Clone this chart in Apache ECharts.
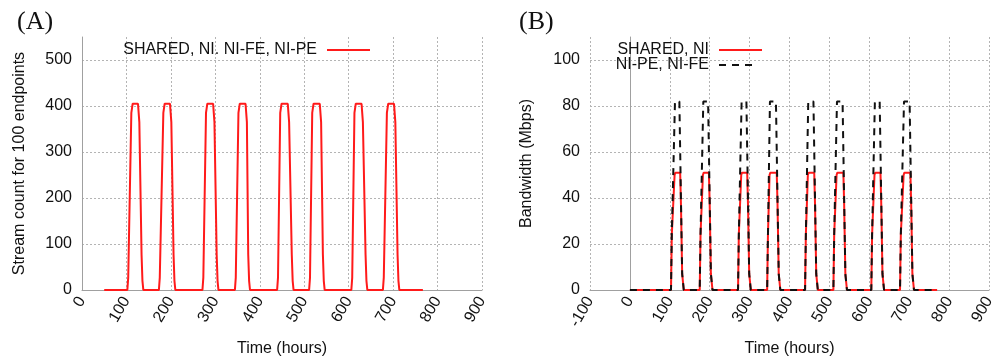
<!DOCTYPE html>
<html>
<head>
<meta charset="utf-8">
<script src="https://cdn.jsdelivr.net/npm/echarts@6/dist/echarts.min.js"></script>
<style>
html,body{margin:0;padding:0;background:#fff}
#main{width:1001px;height:362px}
</style>
</head>
<body>
<div id="main"></div>
<script>
// (A) stream count, one series
var hoursA = [50,
    102,104,111,114,126,129,134,136,138,
    173,175,183,186,198,201,206,208,210,
    271,273,279,282,295,298,303,305,307,
    344,346,352,355,368,371,374,376,378,
    439,441,446,449,463,466,472,474,476,
    511,513,518,521,535,538,542,544,546,
    606,608,613,616,629,632,638,640,642,
    677,679,686,689,702,705,710,712,714,
    767];
var streamsA = [0,
    0,27,385,405,405,365,77,20,0,
    0,27,385,405,405,365,77,20,0,
    0,27,385,405,405,365,77,20,0,
    0,27,385,405,405,365,77,20,0,
    0,27,385,405,405,365,77,20,0,
    0,27,385,405,405,365,77,20,0,
    0,27,385,405,405,365,77,20,0,
    0,27,385,405,405,365,77,20,0,
    0];

// (B) bandwidth
var hoursShared = [0,
    103,105,112,114,126,128,131,135,
    175,177,183,185,198,200,203,207,
    271,273,279,281,294,296,299,303,
    344,346,350,352,368,370,373,377,
    439,441,446,448,462,464,467,471,
    510,512,518,520,535,537,540,544,
    605,607,613,615,628,630,633,637,
    677,679,686,688,703,705,708,712,
    770];
var bwShared = [0,
    0,24,50,51,51,37,7,0,
    0,24,50,51,51,37,7,0,
    0,24,50,51,51,37,7,0,
    0,24,50,51,51,37,7,0,
    0,24,50,51,51,37,7,0,
    0,24,50,51,51,37,7,0,
    0,24,50,51,51,37,7,0,
    0,24,50,51,51,37,7,0,
    0];
var hoursPe = [0,
    103,105,113,124,131,135,
    175,177,184,196,203,207,
    271,273,280,292,299,303,
    344,346,351,366,373,377,
    439,441,447,460,467,471,
    510,512,519,533,540,544,
    605,607,614,626,633,637,
    677,679,687,701,708,712,
    770];
var bwPe = [0,
    0,24,82,82,7,0,
    0,24,82,82,7,0,
    0,24,82,82,7,0,
    0,24,82,82,7,0,
    0,24,82,82,7,0,
    0,24,82,82,7,0,
    0,24,82,82,7,0,
    0,24,82,82,7,0,
    0];

var nameA = 'SHARED, NI. NI-FE, NI-PE';
var nameShared = 'SHARED, NI';
var namePe = 'NI-PE, NI-FE';

function pairs(xs, ys) {
    return xs.map(function (x, i) { return [x, ys[i]]; });
}

var chart = echarts.init(document.getElementById('main'));

var font = 'Liberation Sans';
var gridLine = { show: true, showMaxLine: true, lineStyle: { color: '#b4b4b4', type: [2, 2], width: 1 } };
var axLine = { show: true, lineStyle: { color: '#a0a0a0', width: 1 } };

function xAx(idx, min) {
    return {
        type: 'value', gridIndex: idx, min: min, max: 900, interval: 100,
        name: 'Time (hours)', nameLocation: 'middle', nameGap: 51,
        nameTextStyle: { fontFamily: font, fontSize: 16, color: '#111' },
        axisLine: axLine, axisTick: { show: false },
        axisLabel: { rotate: 60, margin: 8, fontFamily: font, fontSize: 16, color: '#111' },
        splitLine: gridLine
    };
}
function yAx(idx, max, interval, name, gap) {
    return {
        type: 'value', gridIndex: idx, min: 0, max: max, interval: interval,
        name: name, nameLocation: 'middle', nameGap: gap,
        nameTextStyle: { fontFamily: font, fontSize: 16, color: '#111' },
        axisLine: axLine, axisTick: { show: false },
        axisLabel: { margin: 10, showMaxLabel: false, fontFamily: font, fontSize: 16, color: '#111' },
        splitLine: { show: true, showMaxLine: false, lineStyle: gridLine.lineStyle }
    };
}

var legendText = { fontFamily: font, fontSize: 16, color: '#111', lineHeight: 16, padding: [0, 5, 0, 0] };
function legendBox(name, right, top, w) {
    return {
        data: [name], right: right, top: top, align: 'right',
        itemWidth: w, itemHeight: 14, itemStyle: { opacity: 0 },
        textStyle: legendText
    };
}

option = {
    animation: false,
    backgroundColor: '#fff',
    title: [
        { text: '(A)', left: 12, top: 4, textStyle: { fontFamily: 'Liberation Serif', fontSize: 26, fontWeight: 'normal', color: '#111' } },
        { text: '(B)', left: 514, top: 4, textStyle: { fontFamily: 'Liberation Serif', fontSize: 26, fontWeight: 'normal', color: '#111' } }
    ],
    grid: [
        { left: 82, right: 519, top: 37, bottom: 69 },
        { left: 590, right: 12, top: 37, bottom: 69 }
    ],
    legend: [
        legendBox(nameA, 625, 37, 43),
        legendBox(nameShared, 233, 37, 43),
        legendBox(namePe, 238, 52, 38)
    ],
    xAxis: [xAx(0, 0), xAx(1, -100)],
    yAxis: [
        yAx(0, 550, 100, 'Stream count for 100 endpoints', 54),
        yAx(1, 110, 20, 'Bandwidth (Mbps)', 55)
    ],
    series: [
        {
            name: nameA, type: 'line', xAxisIndex: 0, yAxisIndex: 0,
            data: pairs(hoursA, streamsA), symbol: 'none',
            lineStyle: { color: '#ff1a1a', width: 2 }, itemStyle: { color: '#ff1a1a' }
        },
        {
            name: nameShared, type: 'line', xAxisIndex: 1, yAxisIndex: 1,
            data: pairs(hoursShared, bwShared), symbol: 'none',
            lineStyle: { color: '#ff1a1a', width: 2 }, itemStyle: { color: '#ff1a1a' }
        },
        {
            name: namePe, type: 'line', xAxisIndex: 1, yAxisIndex: 1, z: 3,
            data: pairs(hoursPe, bwPe), symbol: 'none',
            lineStyle: { color: '#111', width: 2, type: [7, 6] }, itemStyle: { color: '#111' }
        }
    ]
};
chart.setOption(option);
</script>
</body>
</html>
